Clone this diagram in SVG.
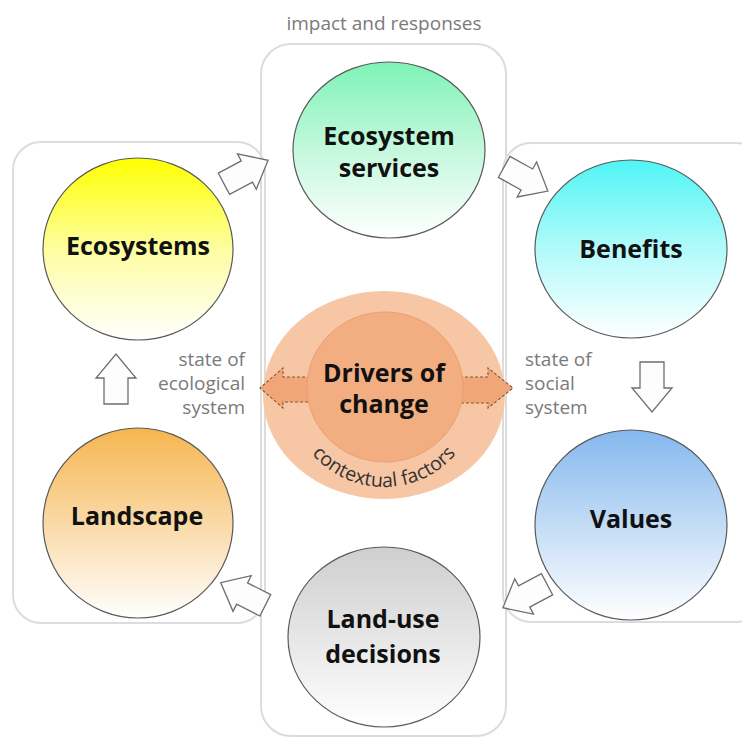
<svg xmlns="http://www.w3.org/2000/svg" xmlns:xlink="http://www.w3.org/1999/xlink" width="742" height="737" viewBox="0 0 742 737">
<style>
.box{fill:none;stroke:#dcdcdc;stroke-width:2}
.node{stroke:#5a5a5a;stroke-width:1.2}
.t{font-family:"Open Sans","Liberation Sans",sans-serif;font-weight:bold;font-size:25px;fill:#111;text-anchor:middle}
.lab{font-family:"Open Sans","Liberation Sans",sans-serif;font-size:19px;fill:#7a7a7a}
.blk{fill:#fdfdfd;stroke:#6e6e6e;stroke-width:1.3;stroke-linejoin:miter}
.dash{fill:none;stroke:#8a5530;stroke-width:1.1;stroke-dasharray:3 2}
</style>
<defs>
<linearGradient id="gEco" x1="0" y1="0" x2="0" y2="1"><stop offset="0" stop-color="#ffff00"/><stop offset="0.5" stop-color="#fdfda0"/><stop offset="1" stop-color="#ffffff"/></linearGradient>
<linearGradient id="gES" x1="0" y1="0" x2="0" y2="1"><stop offset="0" stop-color="#7ef3b6"/><stop offset="0.5" stop-color="#c4f8dd"/><stop offset="1" stop-color="#ffffff"/></linearGradient>
<linearGradient id="gBen" x1="0" y1="0" x2="0" y2="1"><stop offset="0" stop-color="#4ff5f5"/><stop offset="0.5" stop-color="#b2fafa"/><stop offset="1" stop-color="#ffffff"/></linearGradient>
<linearGradient id="gVal" x1="0" y1="0" x2="0" y2="1"><stop offset="0" stop-color="#84b8ee"/><stop offset="0.5" stop-color="#c3dcf6"/><stop offset="1" stop-color="#ffffff"/></linearGradient>
<linearGradient id="gLand" x1="0" y1="0" x2="0" y2="1"><stop offset="0" stop-color="#f6b650"/><stop offset="0.5" stop-color="#fad9a6"/><stop offset="1" stop-color="#ffffff"/></linearGradient>
<linearGradient id="gLU" x1="0" y1="0" x2="0" y2="1"><stop offset="0" stop-color="#cfcfcf"/><stop offset="0.5" stop-color="#e6e6e6"/><stop offset="1" stop-color="#ffffff"/></linearGradient>
<polygon id="arr" points="-25,-12 1,-12 1,-20 25,0 1,20 1,12 -25,12"/>
<path id="ctxPath" d="M 289,392 A 95 95 0 0 0 479,392"/>
</defs>
<rect width="742" height="737" fill="#ffffff"/>
<g id="frames">
<rect class="box" x="13" y="142" width="252" height="481" rx="28"/>
<rect class="box" x="503" y="143" width="262" height="479" rx="28"/>
<rect class="box" x="261" y="44" width="245" height="692" rx="30"/>
</g>
<text class="lab" x="384" y="30" text-anchor="middle" font-size="20">impact and responses</text>
<g id="labels">
<text class="lab" text-anchor="end"><tspan x="245" y="366">state of</tspan><tspan x="245" y="390">ecological</tspan><tspan x="245" y="414">system</tspan></text>
<text class="lab" text-anchor="start"><tspan x="525" y="366">state of</tspan><tspan x="525" y="390">social</tspan><tspan x="525" y="414">system</tspan></text>
</g>
<g id="ecosystems"><ellipse class="node" cx="138" cy="249" rx="95" ry="91" fill="url(#gEco)"/><text class="t" x="138" y="255">Ecosystems</text></g>
<g id="ecosystem-services"><ellipse class="node" cx="389" cy="150" rx="96" ry="88" fill="url(#gES)"/><text class="t" x="389" y="145">Ecosystem</text><text class="t" x="389" y="177">services</text></g>
<g id="benefits"><ellipse class="node" cx="631" cy="249" rx="96" ry="89" fill="url(#gBen)"/><text class="t" x="631" y="258">Benefits</text></g>
<g id="values"><ellipse class="node" cx="631" cy="525" rx="96" ry="95" fill="url(#gVal)"/><text class="t" x="631" y="528">Values</text></g>
<g id="landscape"><ellipse class="node" cx="138" cy="523" rx="95" ry="95" fill="url(#gLand)"/><text class="t" x="137" y="525">Landscape</text></g>
<g id="land-use-decisions"><ellipse class="node" cx="384" cy="637" rx="96" ry="90" fill="url(#gLU)"/><text class="t" x="383" y="628">Land-use</text><text class="t" x="383" y="663">decisions</text></g>
<g id="drivers-of-change">
<ellipse cx="384" cy="395" rx="121" ry="104" fill="#f7c6a5"/>
<path d="M310,377 L283,377 L283,368 L260,388 L283,408 L283,402 L310,402 Z" fill="#f1a677"/>
<path class="dash" d="M310,377 L283,377 L283,368 L260,388 L283,408 L283,402 L310,402"/>
<path d="M460,377 L488,377 L488,368 L513,388 L488,408 L488,403 L460,403 Z" fill="#f1a677"/>
<path class="dash" d="M460,377 L488,377 L488,368 L513,388 L488,408 L488,403 L460,403"/>
<ellipse cx="385" cy="387" rx="78" ry="75" fill="#f2ad80" stroke="#eb9f6f" stroke-width="1"/>
<text class="t" x="384" y="382" font-size="26">Drivers of</text>
<text class="t" x="384" y="413" font-size="26">change</text>
<text font-family="'Open Sans','Liberation Sans',sans-serif" font-size="19.5" fill="#333"><textPath xlink:href="#ctxPath" startOffset="50%" text-anchor="middle">contextual factors</textPath></text>
</g>
<g id="connectors">
<use xlink:href="#arr" class="blk" transform="translate(246,172) rotate(-28)"/>
<use xlink:href="#arr" class="blk" transform="translate(526,179) rotate(29)"/>
<use xlink:href="#arr" class="blk" transform="translate(652,387) rotate(90)"/>
<use xlink:href="#arr" class="blk" transform="translate(525,596) rotate(152)"/>
<use xlink:href="#arr" class="blk" transform="translate(243,594) rotate(207)"/>
<use xlink:href="#arr" class="blk" transform="translate(116,379) rotate(-90)"/>
</g>
</svg>
